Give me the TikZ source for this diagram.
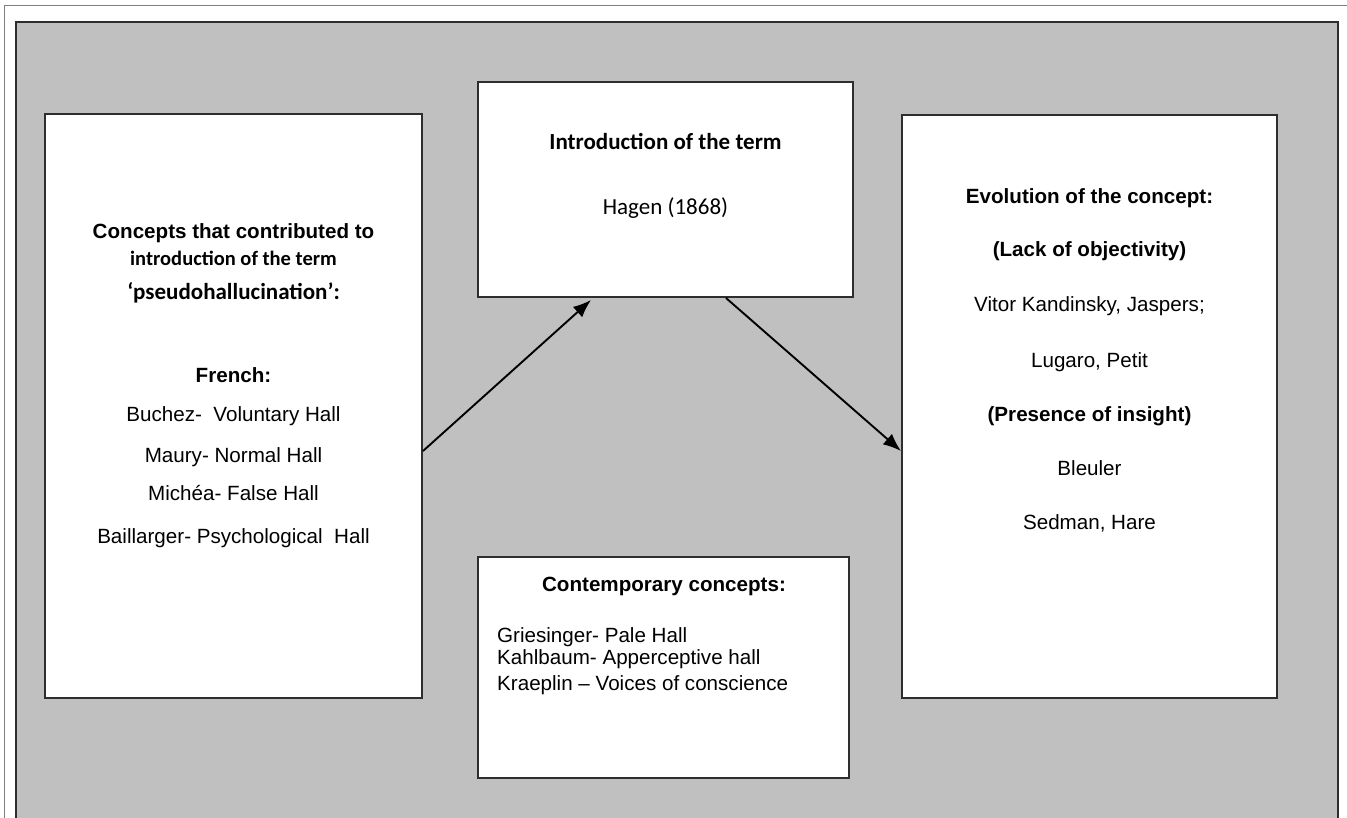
\documentclass[tikz,border=0pt]{standalone}
\usepackage{fontspec}
\setmainfont{Liberation Sans}
\newfontfamily\calibrifont{Carlito}
\usetikzlibrary{arrows.meta}
\definecolor{panelgray}{HTML}{C0C0C0}
\definecolor{boxline}{HTML}{2E2E2E}
\definecolor{frameline}{HTML}{7F7F7F}
\begin{document}
\begin{tikzpicture}[x=1pt,y=-1pt,
  box/.style={draw=boxline, line width=2pt, fill=white, rectangle, inner sep=0pt},
  txt/.style={anchor=base, inner sep=0pt, font=\fontsize{20.6}{24}\selectfont},
  btxt/.style={txt, font=\fontsize{20.6}{24}\selectfont\bfseries},
  ctxt/.style={anchor=base, inner sep=0pt, font=\calibrifont\fontsize{23}{27}\selectfont},
  cbtxt/.style={anchor=base, inner sep=0pt, font=\calibrifont\fontsize{20.5}{24}\selectfont\bfseries},
  arr/.style={draw=black, line width=1.9pt, -{Latex[length=18pt,width=14pt]}}]
\useasboundingbox (0,0) rectangle (1347,818);
% outer frame and panel
\draw[frameline, line width=1pt] (4,830) -- (4,6) -- (1360,6);
\fill[panelgray] (16,22) rectangle (1338,830);
\draw[boxline, line width=2pt] (16,830) -- (16,22) -- (1338,22) -- (1338,830);
% boxes
\node[box, minimum width=377pt, minimum height=584pt] (L) at (233.5,406) {};
\node[box, minimum width=375pt, minimum height=215pt] (T) at (665.5,189.5) {};
\node[box, minimum width=371pt, minimum height=221pt] (B) at (663.5,667.5) {};
\node[box, minimum width=375pt, minimum height=583pt] (R) at (1089.5,406.5) {};
% left box text
\node[btxt] (l1) at (233.5,239) {Concepts that contributed to};
\node[cbtxt] (l2) at (233.5,266) {introduction of the term};
\node[cbtxt, font=\calibrifont\fontsize{23}{27}\selectfont\bfseries] (l3) at (233.5,300) {‘pseudohallucination’:};
\node[btxt] (l4) at (233.5,382) {French:};
\node[txt] (l5) at (233.5,421) {Buchez-\ \ Voluntary Hall};
\node[txt] (l6) at (233.5,462) {Maury- Normal Hall};
\node[txt] (l7) at (233.5,500) {Michéa- False Hall};
\node[txt] (l8) at (233.5,543) {Baillarger- Psychological\ \ Hall};
% top center text
\node[ctxt, font=\calibrifont\fontsize{23}{27}\selectfont\bfseries] (t1) at (665.5,150) {Introduction of the term};
\node[ctxt] (t2) at (665.5,215) {Hagen (1868)};
% bottom center text
\node[btxt] (b1) at (664,591) {Contemporary concepts:};
\node[txt, anchor=base west] (b2) at (497,642) {Griesinger- Pale Hall};
\node[txt, anchor=base west] (b3) at (497,664) {Kahlbaum- Apperceptive hall};
\node[txt, anchor=base west] (b4) at (497,690) {Kraeplin – Voices of conscience};
% right box text
\node[btxt] (r1) at (1089.5,204) {Evolution of the concept:};
\node[btxt] (r2) at (1089.5,257) {(Lack of objectivity)};
\node[txt] (r3) at (1089.5,312) {Vitor Kandinsky, Jaspers;};
\node[txt] (r4) at (1089.5,367) {Lugaro, Petit};
\node[btxt] (r5) at (1089.5,421) {(Presence of insight)};
\node[txt] (r6) at (1089.5,475) {Bleuler};
\node[txt] (r7) at (1089.5,529) {Sedman, Hare};
% arrows
\draw[arr] ([yshift=-338pt]L.north east) -- ([xshift=114pt,yshift=-2pt]T.south west);
\draw[arr] ([xshift=249pt]T.south west) -- ([yshift=-337pt]R.north west);
\end{tikzpicture}
\end{document}
